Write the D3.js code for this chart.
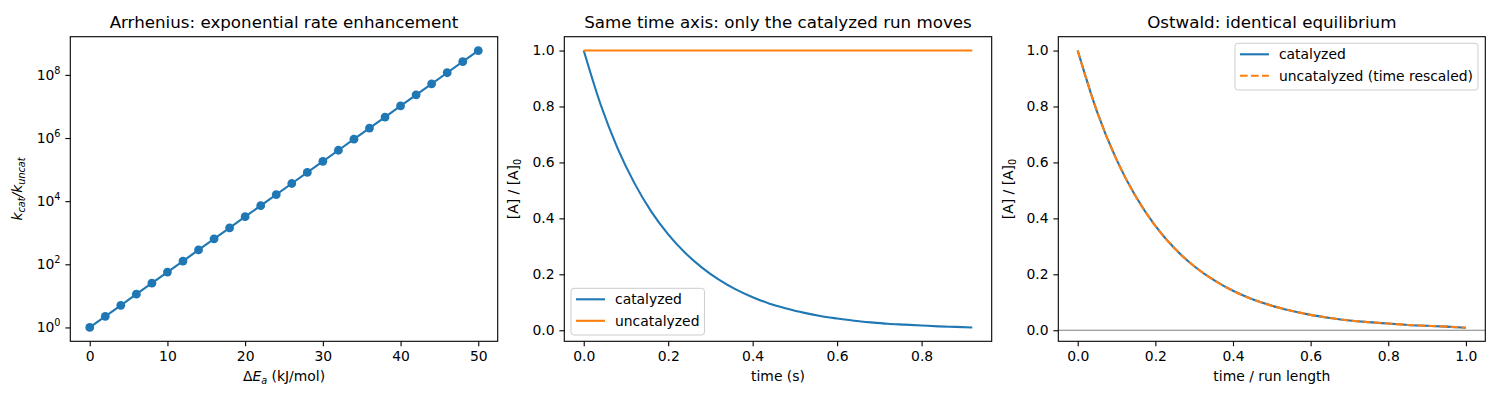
<!DOCTYPE html>
<html>
<head>
<meta charset="utf-8">
<script src="https://cdn.jsdelivr.net/npm/d3@7"></script>
<style>
    body { margin: 0; background: #fff; }
    svg { font-family: "DejaVu Sans", sans-serif; }
</style>
</head>
<body>
<div id="chart"></div>
<script>
// Arrhenius panel: barrier lowering vs rate ratio
const deltaEa = [0, 2, 4, 6, 8, 10, 12, 14, 16, 18, 20, 22, 24, 26, 28, 30, 32, 34, 36, 38, 40, 42, 44, 46, 48, 50];
const rateRatio = [1, 2.24, 5.03, 11.3, 25.3, 56.7, 127, 285, 640, 1430, 3220, 7220, 16200, 36300, 81400,
    183000, 410000, 919000, 2.06e6, 4.62e6, 1.04e7, 2.33e7, 5.22e7, 1.17e8, 2.63e8, 5.89e8];
const logTicks = [1, 1e2, 1e4, 1e6, 1e8];

// Same time axis panel
const timeS = [0, 0.04, 0.08, 0.12, 0.16, 0.20, 0.24, 0.28, 0.32, 0.36, 0.40, 0.44, 0.48, 0.52,
    0.56, 0.60, 0.64, 0.68, 0.72, 0.76, 0.80, 0.84, 0.88, 0.92];
const catalyzed = [1.000, 0.807, 0.651, 0.526, 0.424, 0.343, 0.277, 0.224, 0.181, 0.146, 0.118, 0.095,
    0.078, 0.063, 0.051, 0.042, 0.034, 0.028, 0.023, 0.020, 0.017, 0.014, 0.012, 0.010];
const uncatTime = [0, 0.92];
const uncatalyzed = [1.0, 1.0];

// Ostwald panel: both runs on a normalised time axis
const runFraction = [0, 0.05, 0.10, 0.15, 0.20, 0.25, 0.30, 0.35, 0.40, 0.45, 0.50,
    0.55, 0.60, 0.65, 0.70, 0.75, 0.80, 0.85, 0.90, 0.95, 1.00];
const catalyzedNorm = [1.000, 0.781, 0.610, 0.477, 0.373, 0.292, 0.229, 0.180, 0.141, 0.111, 0.088,
    0.070, 0.055, 0.044, 0.035, 0.029, 0.024, 0.019, 0.016, 0.013, 0.009];
const uncatalyzedRescaled = [1.000, 0.781, 0.610, 0.477, 0.373, 0.292, 0.229, 0.180, 0.141, 0.111, 0.088,
    0.070, 0.055, 0.044, 0.035, 0.029, 0.024, 0.019, 0.016, 0.013, 0.009];

const linearTicks = [0, 0.2, 0.4, 0.6, 0.8, 1.0];

const blue = "#1f77b4";
const orange = "#ff7f0e";
const width = 1500, height = 400;
const axTop = 36.7, axBottom = 341.3;
const fs = 13.9;

const svg = d3.select("#chart").append("svg")
    .attr("width", width)
    .attr("height", height);

// builds the x/y axes for one panel
function makeAxes(left, x, y, yTickValues, yFormat) {
    const g = svg.append("g");

    const xAxis = g.append("g")
        .attr("transform", "translate(0," + axBottom + ")")
        .call(d3.axisBottom(x).tickValues(x.tickVals).tickFormat(x.fmt)
            .tickSize(4.9).tickPadding(4.9).tickSizeOuter(0));
    const yAxis = g.append("g")
        .attr("transform", "translate(" + left + ",0)")
        .call(d3.axisLeft(y).tickValues(yTickValues).tickFormat(yFormat)
            .tickSize(4.9).tickPadding(4.9).tickSizeOuter(0));

    [xAxis, yAxis].forEach(a => {
        a.select(".domain").remove();
        a.selectAll("line").style("stroke", "#000").style("stroke-width", 1.1);
        a.selectAll("text").style("font-size", fs + "px").style("fill", "#000")
            .style("font-family", "DejaVu Sans");
    });

    return yAxis;
}

function frame(left, right) {
    svg.append("rect")
        .attr("x", left).attr("y", axTop)
        .attr("width", right - left).attr("height", axBottom - axTop)
        .style("fill", "none").style("stroke", "#000").style("stroke-width", 1.1);
}

function title(left, right, txt) {
    svg.append("text")
        .attr("x", (left + right) / 2).attr("y", 28)
        .attr("text-anchor", "middle")
        .style("font-size", "16.7px")
        .text(txt);
}

function xLabel(left, right) {
    return svg.append("text")
        .attr("x", (left + right) / 2).attr("y", 381)
        .attr("text-anchor", "middle")
        .style("font-size", fs + "px");
}

function yLabel(cx) {
    return svg.append("text")
        .attr("transform", "translate(" + cx + "," + ((axTop + axBottom) / 2) + ") rotate(-90)")
        .attr("text-anchor", "middle")
        .style("font-size", fs + "px");
}

function concLabel(cx) {
    const t = yLabel(cx);
    t.append("tspan").text("[A] / [A]");
    t.append("tspan").attr("dy", 3).style("font-size", "9.7px").text("0");
}

function drawLine(xs, ys, x, y, color, dash, curve) {
    const pts = xs.map((d, i) => [d, ys[i]]);
    const line = d3.line()
        .x(d => x(d[0]))
        .y(d => y(d[1]))
        .curve(curve || d3.curveMonotoneX);
    return svg.append("path")
        .datum(pts)
        .attr("d", line)
        .style("fill", "none")
        .style("stroke", color)
        .style("stroke-width", 2.1)
        .style("stroke-dasharray", dash || null);
}

function legend(boxX, boxY, alignRight, items) {
    const g = svg.append("g");
    const box = g.append("rect")
        .attr("rx", 3).attr("ry", 3)
        .style("fill", "#fff").style("fill-opacity", 0.8)
        .style("stroke", "#cccccc").style("stroke-width", 1);
    let maxW = 0;
    items.forEach((it, i) => {
        const ry = 11 + i * 21.5;
        g.append("line")
            .attr("x1", 5).attr("x2", 34).attr("y1", ry).attr("y2", ry)
            .style("stroke", it.color).style("stroke-width", 2.1)
            .style("stroke-dasharray", it.dash || null);
        const t = g.append("text")
            .attr("x", 44).attr("y", ry)
            .attr("dy", "0.35em")
            .style("font-size", fs + "px")
            .text(it.label);
        maxW = Math.max(maxW, t.node().getComputedTextLength());
    });
    const w = 44 + maxW + 5;
    box.attr("width", w).attr("height", 46.7);
    const gx = alignRight ? boxX - w : boxX;
    g.attr("transform", "translate(" + gx + "," + boxY + ")");
}

// ---------------- Panel 1 ----------------
const p1 = {left: 70.3, right: 497.7};
const x1 = d3.scaleLinear().domain([-2.5, 52.5]).range([p1.left, p1.right]);
x1.tickVals = [0, 10, 20, 30, 40, 50];
x1.fmt = d3.format("d");
const y1 = d3.scaleLog().domain([0.364, 1.62e9]).range([axBottom, axTop]);

const yAxis1 = makeAxes(p1.left, x1, y1, logTicks, () => "");
yAxis1.selectAll(".tick text").each(function (d) {
    const t = d3.select(this);
    t.append("tspan").text("10");
    t.append("tspan").attr("dy", -6).style("font-size", "9.7px")
        .text(Math.round(Math.log10(d)));
});

drawLine(deltaEa, rateRatio, x1, y1, blue, null, d3.curveLinear);
svg.append("g").selectAll("circle")
    .data(deltaEa.map((d, i) => [d, rateRatio[i]]))
    .enter().append("circle")
    .attr("cx", d => x1(d[0]))
    .attr("cy", d => y1(d[1]))
    .attr("r", 4.4)
    .style("fill", blue);
frame(p1.left, p1.right);
title(p1.left, p1.right, "Arrhenius: exponential rate enhancement");

const xl1 = xLabel(p1.left, p1.right);
xl1.append("tspan").text("\u0394");
xl1.append("tspan").style("font-style", "italic").text("E");
xl1.append("tspan").attr("dy", 3).style("font-size", "9.7px").style("font-style", "italic").text("a");
xl1.append("tspan").attr("dy", -3).text(" (kJ/mol)");

const yl1 = yLabel(22);
yl1.append("tspan").style("font-style", "italic").text("k");
yl1.append("tspan").attr("dy", 3).style("font-size", "9.7px").style("font-style", "italic").text("cat");
yl1.append("tspan").attr("dy", -3).style("font-style", "italic").text("/k");
yl1.append("tspan").attr("dy", 3).style("font-size", "9.7px").style("font-style", "italic").text("uncat");

// ---------------- Panel 2 ----------------
const p2 = {left: 564.3, right: 991.7};
const x2 = d3.scaleLinear().domain([-0.046, 0.966]).range([p2.left, p2.right]);
x2.tickVals = [0, 0.2, 0.4, 0.6, 0.8];
x2.fmt = d3.format(".1f");
const y2 = d3.scaleLinear().domain([-0.0395, 1.0495]).range([axBottom, axTop]);

makeAxes(p2.left, x2, y2, linearTicks, d3.format(".1f"));
drawLine(timeS, catalyzed, x2, y2, blue);
drawLine(uncatTime, uncatalyzed, x2, y2, orange);
frame(p2.left, p2.right);
title(p2.left, p2.right, "Same time axis: only the catalyzed run moves");
xLabel(p2.left, p2.right).text("time (s)");
concLabel(518);
legend(p2.left + 6.7, axBottom - 6.3 - 46.7, false, [
    {label: "catalyzed", color: blue},
    {label: "uncatalyzed", color: orange}
]);

// ---------------- Panel 3 ----------------
const p3 = {left: 1058.3, right: 1485.3};
const x3 = d3.scaleLinear().domain([-0.05, 1.05]).range([p3.left, p3.right]);
x3.tickVals = linearTicks;
x3.fmt = d3.format(".1f");
const y3 = d3.scaleLinear().domain([-0.0395, 1.0495]).range([axBottom, axTop]);

makeAxes(p3.left, x3, y3, linearTicks, d3.format(".1f"));
svg.append("line")
    .attr("x1", p3.left).attr("x2", p3.right)
    .attr("y1", y3(0)).attr("y2", y3(0))
    .style("stroke", "gray").style("stroke-width", 1.1);
drawLine(runFraction, catalyzedNorm, x3, y3, blue);
drawLine(runFraction, uncatalyzedRescaled, x3, y3, orange, "7.7,3.3");
frame(p3.left, p3.right);
title(p3.left, p3.right, "Ostwald: identical equilibrium");
xLabel(p3.left, p3.right).text("time / run length");
concLabel(1013);
legend(p3.right - 7.3, axTop + 6.6, true, [
    {label: "catalyzed", color: blue},
    {label: "uncatalyzed (time rescaled)", color: orange, dash: "7.7,3.3"}
]);
</script>
</body>
</html>
